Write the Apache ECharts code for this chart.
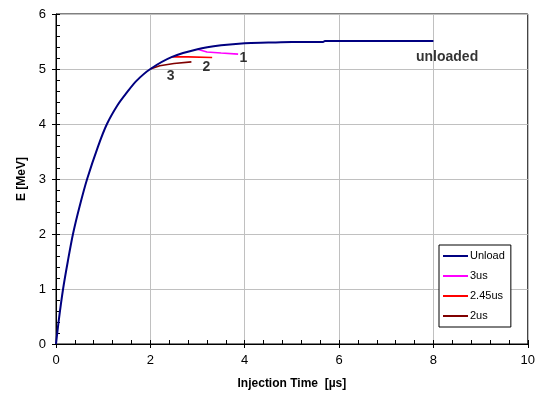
<!DOCTYPE html>
<html>
<head>
<meta charset="utf-8">
<script src="https://cdn.jsdelivr.net/npm/echarts@6/dist/echarts.min.js"></script>
<style>
  html, body { margin: 0; padding: 0; background: #fff; }
  #chart { width: 538px; height: 402px; }
</style>
</head>
<body>
<div id="chart"></div>
<script>
// injection time [us] / energy [MeV]
const unloadT = [0, 0.06, 0.15, 0.25, 0.36, 0.5, 0.66, 0.89, 1.08, 1.31, 1.5, 1.7, 2.0, 2.46, 3.0, 3.5, 4.0, 4.5, 5.0, 5.66, 5.7, 6.5, 7.0, 8.0]
const unloadE = [0, 0.44, 1.0, 1.5, 2.0, 2.5, 3.0, 3.59, 4.0, 4.35, 4.57, 4.78, 5.0, 5.22, 5.36, 5.43, 5.47, 5.48, 5.49, 5.49, 5.51, 5.51, 5.51, 5.51]
const us3T = [3.0, 3.2, 3.5, 3.86]
const us3E = [5.36, 5.31, 5.29, 5.27]
const us245T = [2.45, 2.8, 3.31]
const us245E = [5.22, 5.22, 5.21]
const us2T = [2.0, 2.2, 2.5, 2.87]
const us2E = [5.0, 5.06, 5.1, 5.13]

const seriesNames = ['Unload', '3us', '2.45us', '2us']
const seriesColors = ['#000080', '#ff00ff', '#ff0000', '#800000']

// text annotations inside the plot
const noteText = ['1', '2', '3', 'unloaded']
const noteT = [3.97, 3.19, 2.43, 8.29]
const noteE = [5.2, 5.04, 4.87, 5.22]

const zip = (xs, ys) => xs.map((x, i) => [x, ys[i]])

const chart = echarts.init(document.getElementById('chart'))

const font = 'Liberation Sans, Arial, sans-serif'
const lines = [
  zip(unloadT, unloadE),
  zip(us3T, us3E),
  zip(us245T, us245E),
  zip(us2T, us2E)
]

const innerAxis = {
  min: 0,
  axisLine: { show: false },
  axisLabel: { show: false },
  splitLine: { show: false },
  axisTick: { show: true, inside: true, length: 4, lineStyle: { color: '#000' } },
  minorTick: { show: true, splitNumber: 5, length: 4, lineStyle: { color: '#000' } }
}

chart.setOption({
  animation: false,
  grid: {
    left: 56, top: 14, right: 5, bottom: 58,
    show: true, borderColor: '#000', borderWidth: 1
  },
  legend: {
    data: seriesNames,
    orient: 'vertical',
    left: 439, top: 245,
    padding: [4, 6, 4, 4],
    backgroundColor: '#fff',
    borderColor: '#000',
    borderWidth: 1,
    borderRadius: 0,
    icon: 'rect',
    itemWidth: 25,
    itemHeight: 2,
    itemGap: 6,
    textStyle: { fontFamily: font, fontSize: 11, color: '#000', padding: [0, 0, 0, -3], lineHeight: 14 }
  },
  xAxis: [{
    type: 'value', min: 0, max: 10, interval: 2,
    name: 'Injection Time  [µs]',
    nameLocation: 'middle', nameGap: 34,
    nameTextStyle: { fontFamily: font, fontSize: 12, fontWeight: 'bold', color: '#000' },
    axisLine: { onZero: false, lineStyle: { color: '#000' } },
    axisTick: { length: 4, lineStyle: { color: '#000' } },
    axisLabel: { fontFamily: font, fontSize: 13, color: '#000', margin: 10 },
    splitLine: { lineStyle: { color: '#c0c0c0' } }
  }, Object.assign({ type: 'value', max: 10, interval: 2, position: 'bottom' }, innerAxis)],
  yAxis: [{
    type: 'value', min: 0, max: 6, interval: 1,
    name: 'E [MeV]',
    nameLocation: 'middle', nameGap: 27,
    nameTextStyle: { fontFamily: font, fontSize: 12, fontWeight: 'bold', color: '#000' },
    axisLine: { onZero: false, lineStyle: { color: '#000' } },
    axisTick: { length: 4, lineStyle: { color: '#000' } },
    axisLabel: { fontFamily: font, fontSize: 13, color: '#000', margin: 10 },
    splitLine: { lineStyle: { color: '#c0c0c0' } }
  }, Object.assign({ type: 'value', max: 6, interval: 1, position: 'left' }, innerAxis)],
  series: seriesNames.map((name, i) => ({
    name,
    type: 'line',
    data: lines[i],
    showSymbol: false,
    smooth: i === 0 ? 0.3 : false,
    color: seriesColors[i],
    lineStyle: { width: i === 0 ? 2 : 1.6, color: seriesColors[i] },
    z: i === 0 ? 3 : 2
  })).concat([{
    type: 'scatter',
    symbolSize: 0,
    silent: true,
    data: noteText.map((t, i) => ({ value: [noteT[i], noteE[i]], name: t })),
    label: {
      show: true,
      position: 'inside',
      formatter: p => p.name,
      fontFamily: font,
      fontSize: 14,
      fontWeight: 'bold',
      color: '#000'
    }
  }])
})
</script>
</body>
</html>
